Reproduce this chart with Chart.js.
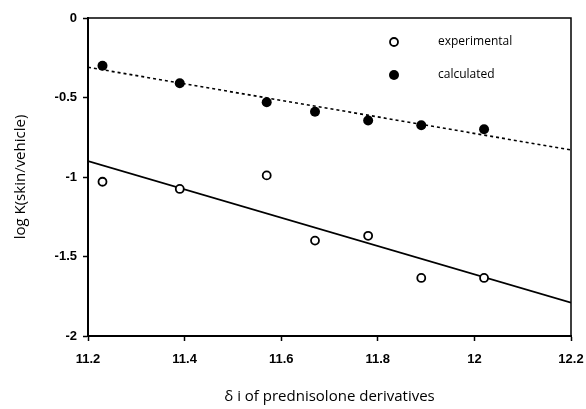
<!DOCTYPE html>
<html>
<head>
<meta charset="utf-8">
<script src="https://cdn.jsdelivr.net/npm/chart.js@4/dist/chart.umd.min.js"></script>
<style>
  html, body { margin: 0; padding: 0; background: #fff; }
  #wrap { width: 586px; height: 409px; }
</style>
</head>
<body>
<div id="wrap"><canvas id="chart" width="586" height="409"></canvas></div>
<script>
// delta i values of the prednisolone derivatives
const deltaI = [11.23, 11.39, 11.57, 11.67, 11.78, 11.89, 12.02];
const experimental = [-1.03, -1.075, -0.99, -1.40, -1.37, -1.635, -1.635];
const calculated = [-0.30, -0.41, -0.53, -0.59, -0.645, -0.675, -0.70];

// regression lines, read at the axis ends
const fitX = [11.2, 12.2];
const expFit = [-0.90, -1.79];
const calcFit = [-0.31, -0.83];

const xTicks = [11.2, 11.4, 11.6, 11.8, 12, 12.2];
const yTicks = [0, -0.5, -1, -1.5, -2];

const FONT = '"Open Sans", "Liberation Sans", Arial, sans-serif';
const TICK_FONT = 'Liberation Sans';
const pts = (xs, ys) => xs.map((x, i) => ({x: x, y: ys[i]}));

// frame around the plot area plus the inset legend
const framePlugin = {
  id: 'frame',
  afterDraw(chart) {
    const c = chart.ctx, a = chart.chartArea;
    c.save();
    c.strokeStyle = '#000';
    c.lineWidth = 1.5;
    c.beginPath();
    c.moveTo(a.left, a.top);
    c.lineTo(a.right, a.top);
    c.lineTo(a.right, a.bottom);
    c.stroke();

    const items = [
      {label: chart.data.datasets[0].label, fill: false, y: 42},
      {label: chart.data.datasets[1].label, fill: true, y: 75}
    ];
    c.font = '12px ' + FONT;
    c.textBaseline = 'middle';
    c.fillStyle = '#000';
    items.forEach(it => {
      c.beginPath();
      c.arc(394, it.y, it.fill ? 5 : 4, 0, Math.PI * 2);
      if (it.fill) { c.fill(); } else { c.lineWidth = 1.8; c.stroke(); }
      c.fillText(it.label, 438, it.y);
    });
    c.restore();
  }
};

new Chart(document.getElementById('chart'), {
  type: 'scatter',
  data: {
    datasets: [
      {
        label: 'experimental',
        data: pts(deltaI, experimental),
        pointRadius: 4,
        pointBorderWidth: 1.8,
        pointBackgroundColor: '#fff',
        pointBorderColor: '#000'
      },
      {
        label: 'calculated',
        data: pts(deltaI, calculated),
        pointRadius: 5,
        pointBorderWidth: 0,
        pointBackgroundColor: '#000',
        pointBorderColor: '#000'
      },
      {
        type: 'line',
        label: 'exp fit',
        data: pts(fitX, expFit),
        borderColor: '#000',
        borderWidth: 1.6,
        pointRadius: 0,
        fill: false
      },
      {
        type: 'line',
        label: 'calc fit',
        data: pts(fitX, calcFit),
        borderColor: '#000',
        borderWidth: 1.6,
        borderDash: [3, 3],
        pointRadius: 0,
        fill: false
      }
    ]
  },
  options: {
    responsive: false,
    animation: false,
    layout: { padding: { top: 18, right: 0, left: 8, bottom: 0 } },
    plugins: {
      legend: { display: false },
      tooltip: { enabled: false }
    },
    scales: {
      x: {
        type: 'linear',
        min: 11.2,
        max: 12.2,
        afterBuildTicks: s => { s.ticks = xTicks.map(v => ({value: v})); },
        afterFit: s => { s.height = 73; s.paddingRight = 15; },
        border: { color: '#000', width: 2 },
        grid: { drawOnChartArea: false, drawTicks: true, tickLength: 5, tickColor: '#000', tickWidth: 1.5 },
        ticks: {
          color: '#000',
          padding: 11,
          font: { family: TICK_FONT, size: 13, weight: 'bold' },
          callback: v => String(v)
        },
        title: {
          display: true,
          text: 'δ i of prednisolone derivatives',
          color: '#000',
          padding: { top: 12, bottom: 3 },
          font: { family: FONT, size: 15 }
        }
      },
      y: {
        type: 'linear',
        min: -2,
        max: 0,
        afterBuildTicks: s => { s.ticks = yTicks.map(v => ({value: v})); },
        afterFit: s => { s.width = 80; },
        border: { color: '#000', width: 2 },
        grid: { drawOnChartArea: false, drawTicks: true, tickLength: 5, tickColor: '#000', tickWidth: 1.5 },
        ticks: {
          color: '#000',
          padding: 6,
          font: { family: TICK_FONT, size: 13, weight: 'bold' },
          callback: v => String(v)
        },
        title: {
          display: true,
          text: 'log K(skin/vehicle)',
          color: '#000',
          padding: { bottom: 0 },
          font: { family: FONT, size: 15 }
        }
      }
    }
  },
  plugins: [framePlugin]
});
</script>
</body>
</html>
